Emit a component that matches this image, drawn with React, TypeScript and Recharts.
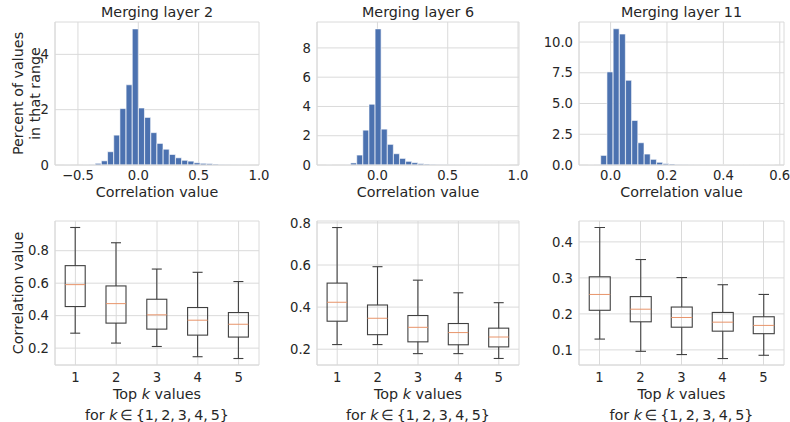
import React from "react";
import { BarChart, Bar, XAxis, YAxis, CartesianGrid, Label } from "recharts";

const W = 790;
const H = 422;
const FONT = "'DejaVu Sans', sans-serif";
const TEXT = "#262626";
const GRID = "#dadada";
const BLUE = "#4c72b0";
const BOX = "#404040";
const MEDIAN = "#e8946a";

// histograms: data range (30 equal bins) and percent per bin
const L2_RANGE = [-0.613, 0.923];
const L2_PCT = [0.003, 0, 0, 0.004, 0.01, 0.06, 0.15, 0.48, 1.08, 2.04, 2.9, 4.92, 2.06, 1.72, 1.17, 0.78, 0.57, 0.38, 0.26, 0.17, 0.14, 0.08, 0.06, 0.05, 0.03, 0.015, 0.01, 0.006, 0.004, 0.003];
const L6_RANGE = [-0.365, 0.941];
const L6_PCT = [0.003, 0, 0, 0.01, 0.14, 0.68, 2.38, 4.15, 9.3, 2.45, 1.41, 0.77, 0.45, 0.25, 0.16, 0.09, 0.06, 0.04, 0.02, 0.015, 0.01, 0.008, 0.005, 0.004, 0.003, 0.002, 0.002, 0.001, 0.001, 0.001];
const L11_RANGE = [-0.079, 0.582];
const L11_PCT = [0.003, 0.01, 0.78, 7.57, 11.08, 10.65, 6.89, 3.62, 1.81, 0.89, 0.46, 0.22, 0.11, 0.08, 0.04, 0.02, 0.01, 0.008, 0.005, 0.004, 0.003, 0.002, 0.002, 0.001, 0.001, 0.001, 0.001, 0.001, 0.001, 0.001];

// box plots: top k values
const K_VALUES = ["1", "2", "3", "4", "5"];
const B2_LO = [0.292, 0.231, 0.21, 0.147, 0.136];
const B2_Q1 = [0.456, 0.354, 0.317, 0.28, 0.268];
const B2_MED = [0.591, 0.474, 0.405, 0.372, 0.347];
const B2_Q3 = [0.708, 0.583, 0.501, 0.45, 0.419];
const B2_HI = [0.943, 0.849, 0.687, 0.667, 0.61];

const B6_LO = [0.222, 0.222, 0.179, 0.179, 0.156];
const B6_Q1 = [0.333, 0.269, 0.235, 0.221, 0.211];
const B6_MED = [0.423, 0.347, 0.304, 0.279, 0.258];
const B6_Q3 = [0.514, 0.41, 0.36, 0.322, 0.3];
const B6_HI = [0.778, 0.592, 0.528, 0.468, 0.421];

const B11_LO = [0.13, 0.096, 0.087, 0.076, 0.085];
const B11_Q1 = [0.21, 0.178, 0.163, 0.152, 0.145];
const B11_MED = [0.254, 0.213, 0.19, 0.177, 0.168];
const B11_Q3 = [0.303, 0.248, 0.219, 0.204, 0.192];
const B11_HI = [0.44, 0.351, 0.301, 0.281, 0.254];

const YW = 50;
const XH = 30;

function binTable(range: number[], pct: number[]) {
  const step = (range[1] - range[0]) / pct.length;
  return pct.map((p, i) => ({ x: range[0] + step * (i + 0.5), pct: p }));
}

function boxTable(lo: number[], q1: number[], med: number[], q3: number[], hi: number[]) {
  return K_VALUES.map((k, i) => ({ k, lo: lo[i], q1: q1[i], med: med[i], q3: q3[i], hi: hi[i] }));
}

const minus = (v: number, d: number) => (v < 0 ? "\u2212" : "") + Math.abs(v).toFixed(d);

const tickStyle = { fontSize: 13.2, fill: TEXT, fontFamily: FONT };

function marginFor(r: any) {
  return { left: r.left - YW, top: r.top, right: W - r.right, bottom: H - r.bottom - XH };
}

function YTitle({ viewBox, lines }: any) {
  const { x, y, width, height } = viewBox;
  const cy = y + height / 2;
  const right = x + width;
  const dists = lines.length === 2 ? [32, 15] : [32];
  return (
    <g>
      {lines.map((t: string, i: number) => (
        <text key={i} x={right - dists[i]} y={cy} transform={`rotate(-90 ${right - dists[i]} ${cy})`}
          textAnchor="middle" fontSize={14.3} fill={TEXT} fontFamily={FONT}>{t}</text>
      ))}
    </g>
  );
}

// x label under the plot, plus the panel title above it
function XTitleCorr({ viewBox, title, plotTop }: any) {
  const { x, y, width } = viewBox;
  const cx = x + width / 2;
  return (
    <g fontSize={14.3} fill={TEXT} fontFamily={FONT}>
      <text x={cx} y={plotTop - 5} textAnchor="middle">{title}</text>
      <text x={cx} y={y + 32} textAnchor="middle">Correlation value</text>
    </g>
  );
}

function XTitleTopK({ viewBox }: any) {
  const { x, y, width } = viewBox;
  const cx = x + width / 2;
  return (
    <g fontSize={14.3} fill={TEXT} fontFamily={FONT}>
      <text x={cx} y={y + 34} textAnchor="middle">
        Top <tspan fontStyle="italic">k</tspan> values
      </text>
      <text x={cx} y={y + 55} textAnchor="middle">
        for <tspan fontStyle="italic">k</tspan>{"\u2009\u2208\u2009{1,\u20092,\u20093,\u20094,\u20095}"}
      </text>
    </g>
  );
}

function Histogram({ rect, data, xDomain, xTicks, yDomain, yTicks, yFmt, title, yLines }: any) {
  return (
    <div style={{ position: "absolute", left: 0, top: 0 }}>
      <BarChart width={W} height={H} data={data} margin={marginFor(rect)} barCategoryGap={0} barGap={0}>
        <CartesianGrid stroke={GRID} strokeWidth={1} />
        <XAxis dataKey="x" type="number" domain={xDomain} ticks={xTicks} allowDataOverflow interval={0}
          tickLine={false} tickSize={4} tickMargin={2} height={XH} axisLine={{ stroke: GRID }}
          tick={tickStyle} tickFormatter={(v: number) => minus(v, 1)}>
          <Label content={(p: any) => <XTitleCorr {...p} title={title} plotTop={rect.top} />} />
        </XAxis>
        <XAxis xAxisId="top" orientation="top" type="number" domain={xDomain} allowDataOverflow height={0}
          tick={false} tickLine={false} axisLine={{ stroke: GRID }} />
        <YAxis type="number" domain={yDomain} ticks={yTicks} allowDataOverflow interval={0} width={YW}
          tickLine={false} tickSize={4} tickMargin={2} axisLine={{ stroke: GRID }} tick={tickStyle}
          tickFormatter={yFmt}>
          {yLines ? <Label content={(p: any) => <YTitle {...p} lines={yLines} />} /> : null}
        </YAxis>
        <YAxis yAxisId="right" orientation="right" type="number" domain={yDomain} allowDataOverflow width={0}
          tick={false} tickLine={false} axisLine={{ stroke: GRID }} />
        <Bar dataKey="pct" fill={BLUE} stroke="#ffffff" strokeWidth={0.6} isAnimationActive={false} />
      </BarChart>
    </div>
  );
}

function BoxShape(props: any) {
  const { x, y, width, height, payload } = props;
  if (!payload || !height) return null;
  const { lo, q1, med, q3, hi } = payload;
  const py = (v: number) => y + (height * (hi - v)) / (hi - lo);
  const cx = x + width / 2;
  const cap = width / 4;
  return (
    <g>
      <line x1={cx} x2={cx} y1={py(hi)} y2={py(q3)} stroke={BOX} strokeWidth={1.1} />
      <line x1={cx} x2={cx} y1={py(q1)} y2={py(lo)} stroke={BOX} strokeWidth={1.1} />
      <line x1={cx - cap} x2={cx + cap} y1={py(hi)} y2={py(hi)} stroke={BOX} strokeWidth={1.1} />
      <line x1={cx - cap} x2={cx + cap} y1={py(lo)} y2={py(lo)} stroke={BOX} strokeWidth={1.1} />
      <rect x={x} y={py(q3)} width={width} height={py(q1) - py(q3)} fill="none" stroke={BOX} strokeWidth={1.1} />
      <line x1={x} x2={x + width} y1={py(med)} y2={py(med)} stroke={MEDIAN} strokeWidth={1} />
    </g>
  );
}

function BoxPanel({ rect, data, yDomain, yTicks, yLines }: any) {
  return (
    <div style={{ position: "absolute", left: 0, top: 0 }}>
      <BarChart width={W} height={H} data={data} margin={marginFor(rect)} barCategoryGap="25%">
        <CartesianGrid stroke={GRID} strokeWidth={1} />
        <XAxis dataKey="k" interval={0} tickLine={false} tickSize={6} tickMargin={2} height={XH}
          axisLine={{ stroke: GRID }} tick={tickStyle}>
          <Label content={(p: any) => <XTitleTopK {...p} />} />
        </XAxis>
        <XAxis xAxisId="top" orientation="top" dataKey="k" height={0} tick={false} tickLine={false}
          axisLine={{ stroke: GRID }} />
        <YAxis type="number" domain={yDomain} ticks={yTicks} allowDataOverflow interval={0} width={YW}
          tickLine={false} tickSize={4} tickMargin={2} axisLine={{ stroke: GRID }} tick={tickStyle}
          tickFormatter={(v: number) => v.toFixed(1)}>
          {yLines ? <Label content={(p: any) => <YTitle {...p} lines={yLines} />} /> : null}
        </YAxis>
        <YAxis yAxisId="right" orientation="right" type="number" domain={yDomain} allowDataOverflow width={0}
          tick={false} tickLine={false} axisLine={{ stroke: GRID }} />
        <Bar dataKey={(d: any) => [d.lo, d.hi]} shape={<BoxShape />} isAnimationActive={false} />
      </BarChart>
    </div>
  );
}

const COLS = [
  { left: 55, right: 259 },
  { left: 317, right: 519 },
  { left: 579, right: 784 },
];
const TOP_ROW = { top: 22, bottom: 165 };
const BOTTOM_ROW = { top: 221, bottom: 365 };

export default function App() {
  return (
    <div style={{ position: "absolute", left: 0, top: 0, width: W, height: H, background: "#ffffff", overflow: "hidden" }}>
      <Histogram rect={{ ...COLS[0], ...TOP_ROW }} data={binTable(L2_RANGE, L2_PCT)} xDomain={[-0.69, 1.0]}
        xTicks={[-0.5, 0, 0.5, 1.0]} yDomain={[0, 5.17]} yTicks={[0, 2, 4]} yFmt={(v: number) => String(v)}
        title="Merging layer 2" yLines={["Percent of values", "in that range"]} />
      <Histogram rect={{ ...COLS[1], ...TOP_ROW }} data={binTable(L6_RANGE, L6_PCT)} xDomain={[-0.43, 1.007]}
        xTicks={[0, 0.5, 1.0]} yDomain={[0, 9.77]} yTicks={[0, 2, 4, 6, 8]} yFmt={(v: number) => String(v)}
        title="Merging layer 6" />
      <Histogram rect={{ ...COLS[2], ...TOP_ROW }} data={binTable(L11_RANGE, L11_PCT)} xDomain={[-0.112, 0.615]}
        xTicks={[0, 0.2, 0.4, 0.6]} yDomain={[0, 11.63]} yTicks={[0, 2.5, 5, 7.5, 10]} yFmt={(v: number) => v.toFixed(1)}
        title="Merging layer 11" />
      <BoxPanel rect={{ ...COLS[0], ...BOTTOM_ROW }} data={boxTable(B2_LO, B2_Q1, B2_MED, B2_Q3, B2_HI)}
        yDomain={[0.096, 0.983]} yTicks={[0.2, 0.4, 0.6, 0.8]} yLines={["Correlation value"]} />
      <BoxPanel rect={{ ...COLS[1], ...BOTTOM_ROW }} data={boxTable(B6_LO, B6_Q1, B6_MED, B6_Q3, B6_HI)}
        yDomain={[0.125, 0.809]} yTicks={[0.2, 0.4, 0.6, 0.8]} />
      <BoxPanel rect={{ ...COLS[2], ...BOTTOM_ROW }} data={boxTable(B11_LO, B11_Q1, B11_MED, B11_Q3, B11_HI)}
        yDomain={[0.058, 0.458]} yTicks={[0.1, 0.2, 0.3, 0.4]} />
    </div>
  );
}
